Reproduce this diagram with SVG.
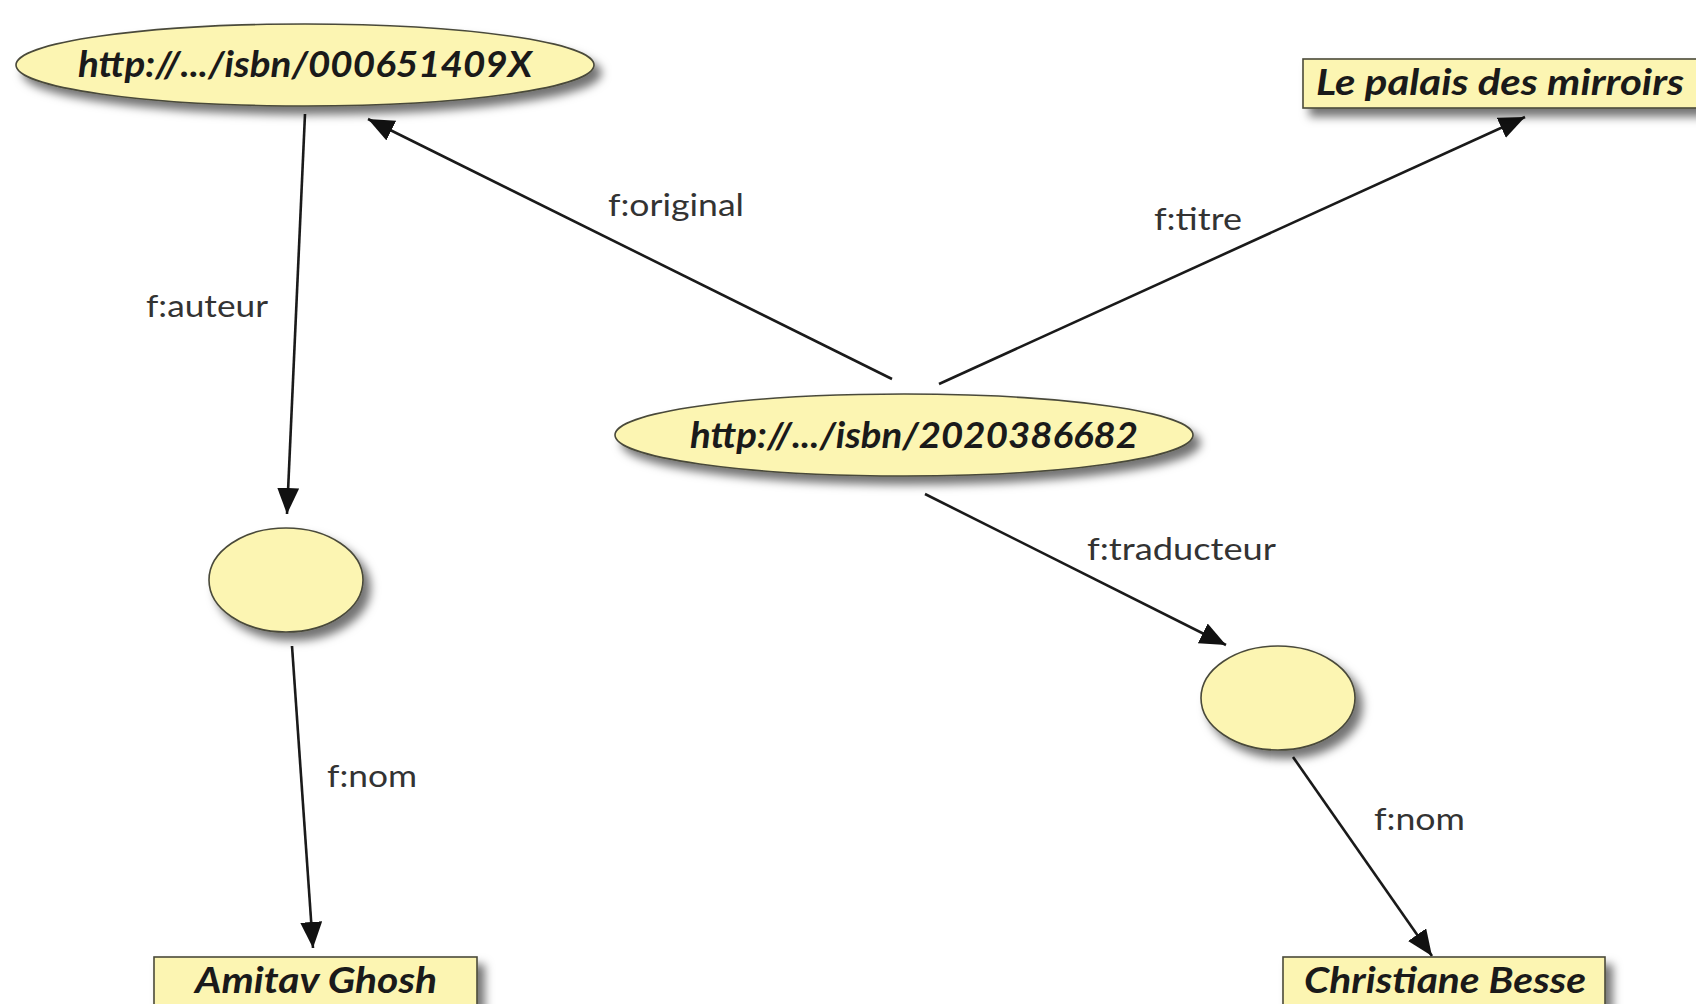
<svg xmlns="http://www.w3.org/2000/svg" width="1696" height="1004" viewBox="0 0 1696 1004">
<style>
.node{fill:#fcf5b2;stroke:#4a4a3a;stroke-width:1.6}
.nt{font-family:Lato,"Open Sans","Liberation Sans",sans-serif;font-weight:bold;font-style:italic;font-size:36px;fill:#1a1a1a}
.lbl{font-family:Lato,"Open Sans","Liberation Sans",sans-serif;font-size:31px;fill:#333}
.edge{stroke:#1a1a1a;stroke-width:2.6;fill:none;marker-end:url(#arr)}
</style>
<defs>
<filter id="sh" x="-20%" y="-30%" width="140%" height="170%">
<feDropShadow dx="7" dy="8" stdDeviation="5" flood-color="#000" flood-opacity="0.55"/>
</filter>
<marker id="arr" markerUnits="userSpaceOnUse" markerWidth="30" markerHeight="26" refX="26" refY="11" orient="auto">
<path d="M0,0 L26,11 L0,22 z" fill="#111"/>
</marker>
</defs>
<rect width="1696" height="1004" fill="#fff"/>
<g id="connectors">
<line class="edge" x1="305" y1="114" x2="287" y2="514"/>
<line class="edge" x1="892" y1="379" x2="368" y2="119"/>
<line class="edge" x1="939" y1="384" x2="1525" y2="117"/>
<line class="edge" x1="925" y1="494" x2="1226" y2="645"/>
<line class="edge" x1="292" y1="646" x2="313" y2="948"/>
<line class="edge" x1="1293" y1="757" x2="1432" y2="956"/>
<text class="lbl" x="146" y="317" textLength="122" lengthAdjust="spacingAndGlyphs">f:auteur</text>
<text class="lbl" x="608" y="216" textLength="136" lengthAdjust="spacingAndGlyphs">f:original</text>
<text class="lbl" x="1154" y="230" textLength="88" lengthAdjust="spacingAndGlyphs">f:titre</text>
<text class="lbl" x="1087" y="560" textLength="189" lengthAdjust="spacingAndGlyphs">f:traducteur</text>
<text class="lbl" x="327" y="787" textLength="90" lengthAdjust="spacingAndGlyphs">f:nom</text>
<text class="lbl" x="1374" y="830" textLength="91" lengthAdjust="spacingAndGlyphs">f:nom</text>
</g>
<g id="n_orig">
<ellipse class="node" cx="305" cy="65" rx="289" ry="41" filter="url(#sh)"/>
<text class="nt" x="78" y="77" textLength="454" lengthAdjust="spacingAndGlyphs">http://.../isbn/000651409X</text>
</g>
<g id="n_trad">
<ellipse class="node" cx="904" cy="435" rx="289" ry="41" filter="url(#sh)"/>
<text class="nt" x="690" y="448" textLength="448" lengthAdjust="spacingAndGlyphs">http://.../isbn/2020386682</text>
</g>
<g id="n_titre">
<rect class="node" x="1303" y="59" width="420" height="49" filter="url(#sh)"/>
<text class="nt" x="1316" y="95" textLength="368" lengthAdjust="spacingAndGlyphs">Le palais des mirroirs</text>
</g>
<g id="n_auteur">
<ellipse class="node" cx="286" cy="580" rx="77" ry="52" filter="url(#sh)"/>
</g>
<g id="n_traducteur">
<ellipse class="node" cx="1278" cy="698" rx="77" ry="52" filter="url(#sh)"/>
</g>
<g id="n_ghosh">
<rect class="node" x="154" y="957" width="323" height="60" filter="url(#sh)"/>
<text class="nt" x="195" y="993" textLength="242" lengthAdjust="spacingAndGlyphs">Amitav Ghosh</text>
</g>
<g id="n_besse">
<rect class="node" x="1283" y="957" width="322" height="60" filter="url(#sh)"/>
<text class="nt" x="1304" y="993" textLength="282" lengthAdjust="spacingAndGlyphs">Christiane Besse</text>
</g>
</svg>
